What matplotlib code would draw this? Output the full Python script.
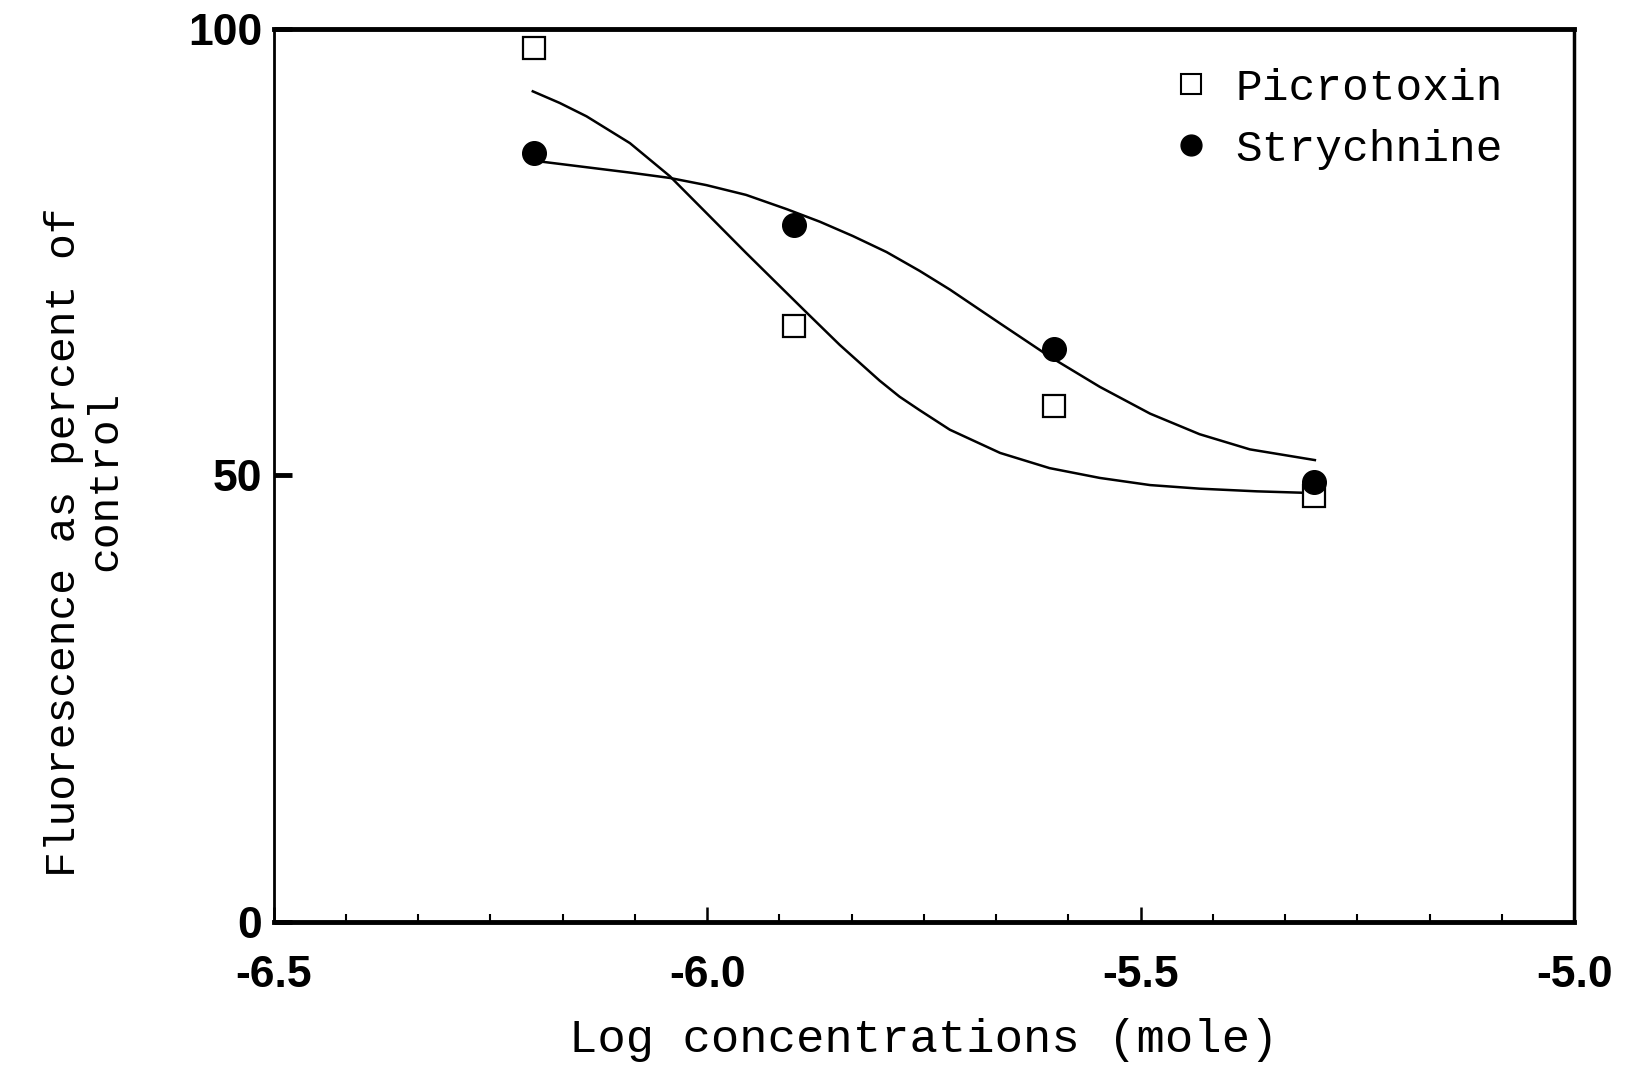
import numpy as np
import matplotlib
matplotlib.use("Agg")
import matplotlib.pyplot as plt
from matplotlib.lines import Line2D
from matplotlib.ticker import MultipleLocator

# measured points
log_conc = [-6.2, -5.9, -5.6, -5.3]
picrotoxin = [97.8, 66.7, 57.8, 47.7]
strychnine = [86.1, 78.0, 64.1, 49.2]

# fitted curves
picro_fit_x = [-6.201, -6.17, -6.139, -6.089, -6.043, -6.001, -5.955, -5.908, -5.885,
               -5.847, -5.801, -5.778, -5.755, -5.720, -5.662, -5.605, -5.547, -5.489,
               -5.432, -5.366, -5.299]
picro_fit_y = [93.0, 91.7, 90.2, 87.2, 83.5, 79.4, 74.9, 70.4, 68.2,
               64.6, 60.6, 58.8, 57.3, 55.1, 52.5, 50.8, 49.7, 48.9,
               48.5, 48.2, 48.0]
strych_fit_x = [-6.2, -6.189, -6.139, -6.089, -6.043, -6.001, -5.955, -5.908, -5.870,
                -5.832, -5.793, -5.755, -5.720, -5.662, -5.605, -5.547, -5.489, -5.432,
                -5.374, -5.299]
strych_fit_y = [85.2, 85.1, 84.5, 83.9, 83.3, 82.5, 81.4, 79.8, 78.4,
                76.8, 75.0, 72.9, 70.8, 67.0, 63.3, 59.9, 56.9, 54.6,
                52.9, 51.7]

xticks = [-6.5, -6.0, -5.5, -5.0]
xticklabels = ["-6.5", "-6.0", "-5.5", "-5.0"]
yticks = [0, 50, 100]
yticklabels = ["0", "50", "100"]

mono = "Liberation Mono"
tickfont = {"family": "Liberation Sans", "weight": "bold", "size": 32}

fig = plt.figure(figsize=(16.38, 10.68), dpi=100)
ax = fig.add_axes([0.167, 0.137, 0.794, 0.836])

# curves
ax.plot(picro_fit_x, picro_fit_y, color="black", lw=1.8, solid_joinstyle="round")
ax.plot(strych_fit_x, strych_fit_y, color="black", lw=1.8, solid_joinstyle="round")

# data points
ax.plot(log_conc, picrotoxin, linestyle="none", marker="s", markersize=16,
        markerfacecolor="white", markeredgecolor="black", markeredgewidth=1.6)
ax.plot(log_conc, strychnine, linestyle="none", marker="o", markersize=17,
        markerfacecolor="black", markeredgecolor="black")

ax.set_xlim(-6.5, -5.0)
ax.set_ylim(0, 100)

ax.set_xticks(xticks)
ax.set_xticklabels(xticklabels, fontdict=tickfont)
ax.xaxis.set_minor_locator(MultipleLocator(1 / 12))
ax.tick_params(axis="x", which="major", direction="in", length=11, width=1.8, pad=24)
ax.tick_params(axis="x", which="minor", direction="in", length=6, width=1.5)

ax.set_yticks(yticks)
ax.set_yticklabels(yticklabels, fontdict=tickfont)
ax.tick_params(axis="y", which="major", direction="in", length=13, width=3.5, pad=8)

ax.spines["top"].set_linewidth(3.5)
ax.spines["bottom"].set_linewidth(3.5)
ax.spines["left"].set_linewidth(2.0)
ax.spines["right"].set_linewidth(2.5)

ax.set_xlabel("Log concentrations (mole)", family=mono, fontsize=34, labelpad=16)

# y label, two lines placed separately like the original
fig.text(0.039, 0.492, "Fluorescence as percent of", family=mono, fontsize=31,
         rotation=90, ha="center", va="center")
fig.text(0.064, 0.55, "control", family=mono, fontsize=31,
         rotation=90, ha="center", va="center")

handles = [
    Line2D([], [], linestyle="none", marker="s", markersize=14,
           markerfacecolor="white", markeredgecolor="black", markeredgewidth=1.5),
    Line2D([], [], linestyle="none", marker="o", markersize=15,
           markerfacecolor="black", markeredgecolor="black"),
]
ax.legend(handles, ["Picrotoxin", "Strychnine"], loc="upper left",
          bbox_to_anchor=(1169 / 1638, 1 - 68 / 1068), bbox_transform=fig.transFigure,
          frameon=False, borderpad=0, borderaxespad=0, handlelength=1.0,
          handletextpad=0.5, labelspacing=0.45, prop={"family": mono, "size": 32})

fig.savefig("out.png", dpi=100)
